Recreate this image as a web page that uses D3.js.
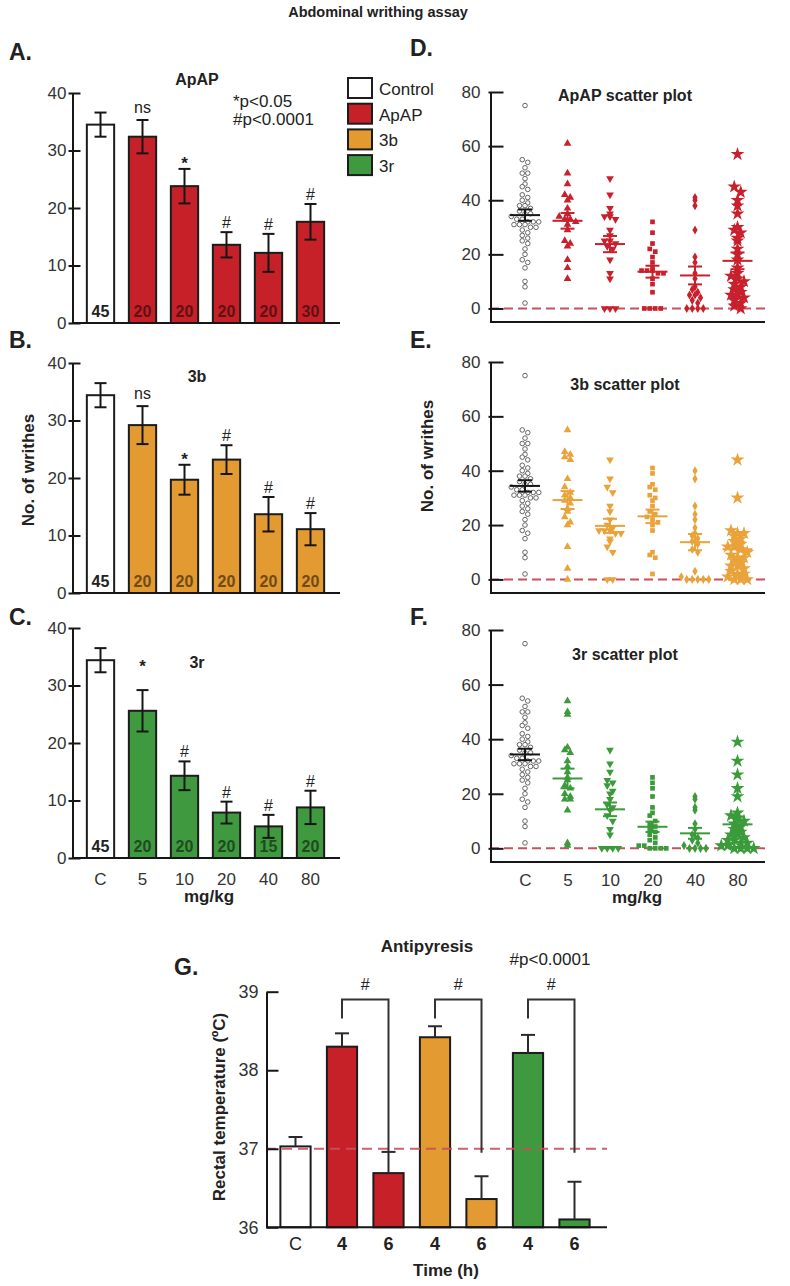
<!DOCTYPE html>
<html>
<head>
<meta charset="utf-8">
<script src="https://cdn.jsdelivr.net/npm/d3@7"></script>
<style>
  body { margin: 0; background: #fff; }
  svg text { font-family: "Liberation Sans", Arial, sans-serif; }
</style>
</head>
<body>
<div id="chart"></div>
<script>
// categories
const doses = ["C", "5", "10", "20", "40", "80"];
const legendNames = ["Control", "ApAP", "3b", "3r"];
const legendColors = ["#ffffff", "#c62129", "#e39a30", "#3f9a3f"];

// writhing bar charts: mean, SEM, n, significance
const apapMean = [34.5, 32.4, 23.8, 13.6, 12.2, 17.6];
const apapSem  = [2.1, 2.9, 3.0, 2.2, 3.3, 3.1];
const apapN    = [45, 20, 20, 20, 20, 30];
const apapSig  = ["", "ns", "*", "#", "#", "#"];

const b3Mean = [34.4, 29.2, 19.7, 23.2, 13.7, 11.1];
const b3Sem  = [2.1, 3.3, 2.6, 2.5, 3.0, 2.8];
const b3N    = [45, 20, 20, 20, 20, 20];
const b3Sig  = ["", "ns", "*", "#", "#", "#"];

const r3Mean = [34.4, 25.6, 14.3, 7.9, 5.5, 8.8];
const r3Sem  = [2.1, 3.6, 2.5, 1.9, 2.0, 2.9];
const r3N    = [45, 20, 20, 20, 15, 20];
const r3Sig  = ["", "*", "#", "#", "#", "#"];

// individual animals (scatter plots), control shared by D, E, F
const ctrlPts = [75, 55, 54, 52, 50, 50, 48, 46, 45, 44, 42, 41, 40, 39, 38, 38, 37, 36, 35, 35, 34, 33, 33,
  32, 32, 32, 31, 31, 31, 30, 30, 29, 28, 27, 26, 25, 24, 22, 20, 18, 17, 15, 10, 8, 2];
const apapPts = [
  [61, 50, 46, 42, 41, 40, 37, 35, 34, 33, 33, 32, 31, 29, 25, 24, 23, 18, 15, 11],
  [48, 42, 37, 35, 34, 34, 33, 29, 27, 25, 25, 24, 23, 22, 18, 13, 11, 0, 0, 0],
  [32, 28, 24, 22, 21, 19, 17, 15, 14, 14, 14, 13, 13, 11, 9, 6, 0, 0, 0, 0],
  [41, 40, 38, 29, 19, 17, 13, 11, 8, 7, 6, 5, 5, 4, 3, 2, 0, 0, 0, 0],
  [57, 45, 43, 40, 38, 35, 30, 29, 28, 26, 25, 22, 20, 18, 15, 13, 12, 11, 10, 9, 8, 7, 6, 5, 5, 4, 3, 2, 1, 0]
];
const b3Pts = [
  [55, 47, 46, 45, 44, 37, 34, 32, 31, 30, 29, 28, 26, 25, 23, 21, 20, 12, 4, 0],
  [44, 37, 34, 32, 27, 25, 22, 20, 19, 18, 18, 18, 17, 17, 15, 14, 12, 10, 0, 0],
  [41, 39, 35, 34, 33, 31, 30, 29, 27, 25, 24, 23, 22, 21, 20, 18, 10, 9, 8, 2],
  [40, 37, 27, 24, 22, 19, 17, 16, 15, 14, 13, 11, 10, 3, 1, 0, 0, 0, 0, 0],
  [44, 30, 18, 17, 17, 16, 15, 14, 13, 12, 12, 11, 10, 9, 8, 8, 7, 6, 5, 5, 4, 3, 2, 2, 1, 0, 0, 0]
];
const r3Pts = [
  [54, 50, 49, 37, 36, 35, 32, 30, 28, 26, 25, 23, 22, 20, 19, 18, 18, 14, 2, 1],
  [36, 31, 28, 25, 24, 23, 21, 20, 18, 16, 15, 14, 12, 10, 7, 5, 0, 0, 0, 0],
  [26, 24, 22, 19, 15, 13, 12, 10, 9, 8, 7, 6, 5, 4, 3, 2, 1, 1, 0, 0, 0, 0],
  [19, 18, 15, 14, 9, 7, 5, 4, 3, 2, 1, 0, 0, 0, 0],
  [39, 32, 27, 22, 19, 13, 12, 11, 10, 9, 8, 7, 6, 5, 5, 4, 3, 3, 2, 2, 1, 1, 0, 0, 0, 0]
];

// antipyresis
const timeLabels = ["C", "4", "6", "4", "6", "4", "6"];
const tempGroup  = ["Control", "ApAP", "ApAP", "3b", "3b", "3r", "3r"];
const tempMean   = [37.03, 38.30, 36.69, 38.42, 36.36, 38.22, 36.10];
const tempSem    = [0.12, 0.17, 0.27, 0.14, 0.29, 0.23, 0.48];
const tempPairs  = [[1, 2], [3, 4], [5, 6]];

const svg = d3.select("#chart").append("svg").attr("width", 790).attr("height", 1286);
const colorOf = name => legendColors[legendNames.indexOf(name)];
const dotColor = {ApAP: "#c8202c", "3b": "#e9a33a", "3r": "#3b9b3b"};
const INK = "#161616";

function label(g, x, y, s, size, o = {}) {
  return g.append("text").attr("x", x).attr("y", y).text(s)
    .attr("font-size", size)
    .attr("font-weight", o.bold ? "bold" : null)
    .attr("text-anchor", o.anchor || "start")
    .attr("fill", o.fill || "#222")
    .attr("transform", o.rotate ? `rotate(-90,${x},${y})` : null);
}

function styleAxis(a, size) {
  a.select(".domain").attr("stroke", INK).attr("stroke-width", 2);
  a.selectAll(".tick line").attr("stroke", INK).attr("stroke-width", 2);
  a.selectAll(".tick text").attr("font-size", size).attr("fill", "#333");
}

function barPanel(p) {
  const g = svg.append("g");
  const x = d3.scaleBand().domain(doses).range([79.5, 331.5]).paddingInner(0.35).paddingOuter(0.175);
  const y = d3.scaleLinear().domain([0, 40]).range([p.base, p.base - 230]);
  const cx = d => x(d.dose) + x.bandwidth() / 2;
  const rows = doses.map((d, i) => ({
    dose: d, mean: p.mean[i], sem: p.sem[i], n: p.n[i], sig: p.sig[i],
    lift: (p.lift || [])[i] || 0, fill: i === 0 ? colorOf("Control") : colorOf(p.group)
  }));

  g.selectAll("rect").data(rows).join("rect")
    .attr("x", d => x(d.dose)).attr("width", x.bandwidth())
    .attr("y", d => y(d.mean)).attr("height", d => y(0) - y(d.mean))
    .attr("fill", d => d.fill).attr("stroke", "#1c1c1c").attr("stroke-width", 2);

  const eb = g.append("g").attr("stroke", INK).attr("stroke-width", 2)
    .selectAll("g").data(rows).join("g");
  eb.append("line").attr("x1", cx).attr("x2", cx)
    .attr("y1", d => y(d.mean - d.sem)).attr("y2", d => y(d.mean + d.sem));
  [1, -1].forEach(s => eb.append("line")
    .attr("x1", d => cx(d) - 6).attr("x2", d => cx(d) + 6)
    .attr("y1", d => y(d.mean + s * d.sem)).attr("y2", d => y(d.mean + s * d.sem)));

  g.append("g").selectAll("text").data(rows).join("text")
    .attr("x", cx).attr("y", y(0) - 6).attr("text-anchor", "middle")
    .attr("font-size", 16).attr("font-weight", "bold")
    .attr("fill", d => d.fill === "#ffffff" ? "#222" : d3.color(d.fill).darker(2))
    .text(d => d.n);

  const sigOff = {"ns": 7, "*": 0, "#": 4};
  g.append("g").selectAll("text").data(rows.filter(d => d.sig)).join("text")
    .attr("x", cx).attr("y", d => y(d.mean + d.sem) - sigOff[d.sig] - d.lift)
    .attr("text-anchor", "middle").attr("font-size", d => d.sig === "*" ? 17 : 16)
    .attr("font-weight", d => d.sig === "*" ? "bold" : null)
    .attr("fill", "#222").text(d => d.sig);

  g.append("g").attr("transform", "translate(72.5,0)")
    .call(d3.axisLeft(y).tickValues([0, 10, 20, 30, 40]).tickSizeInner(-8).tickSizeOuter(0).tickPadding(6))
    .call(a => { styleAxis(a, 17); a.selectAll(".tick line").attr("x1", -4); });
  g.append("line").attr("x1", 72).attr("x2", 340).attr("y1", y(0)).attr("y2", y(0))
    .attr("stroke", INK).attr("stroke-width", 2);

  if (p.xlabels) {
    g.append("g").attr("transform", `translate(0,${y(0)})`)
      .call(d3.axisBottom(x).tickSize(0).tickPadding(15))
      .call(a => { a.select(".domain").remove(); styleAxis(a, 17); });
    label(g, 209, y(0) + 44, "mg/kg", 17, {bold: true, anchor: "middle"});
  }
  label(g, 9, p.letterY, p.letter, 23, {bold: true});
  label(g, 197, p.titleY, p.title, 16, {bold: true, anchor: "middle"});
  if (p.ylabel) label(g, 34, 470, "No. of writhes", 17, {bold: true, anchor: "middle", rotate: true});
}

function swarm(vals, binW, step) {
  const sorted = vals.slice().sort((a, b) => b - a);
  const out = [];
  d3.groups(sorted, v => Math.round(v / binW)).forEach(([, arr]) =>
    arr.forEach((v, j) => out.push({v, dx: (j - (arr.length - 1) / 2) * step})));
  return out;
}

const symType = [null, d3.symbolTriangle, d3.symbolTriangle, d3.symbolSquare, d3.symbolDiamond, d3.symbolStar];
const symSize = [0, 26, 26, 22, 24, 60];
const symRot  = [0, 0, 180, 0, 0, 0];

function scatterPanel(p) {
  const g = svg.append("g");
  const x = d3.scalePoint().domain(doses).range([525, 737.5]);
  const y = d3.scaleLinear().domain([-5, 80]).range([p.base, p.top]);
  const cols = [ctrlPts].concat(p.pts);
  const dc = dotColor[p.group];

  g.append("line").attr("x1", 490).attr("x2", 770).attr("y1", y(0)).attr("y2", y(0))
    .attr("stroke", "#c9505c").attr("stroke-width", 2).attr("stroke-dasharray", "9,5");

  cols.forEach((vals, i) => {
    const pts = swarm(vals, 2.2, i === 5 ? 6.5 : 5.5);
    const c0 = x(doses[i]);
    if (i === 0) {
      g.append("g").selectAll("circle").data(pts).join("circle")
        .attr("cx", d => c0 + d.dx).attr("cy", d => y(d.v)).attr("r", 2.3)
        .attr("fill", "#fff").attr("stroke", "#666").attr("stroke-width", 1);
    } else {
      g.append("g").selectAll("path").data(pts).join("path")
        .attr("d", d3.symbol(symType[i], symSize[i])())
        .attr("transform", d => `translate(${c0 + d.dx},${y(d.v)}) rotate(${symRot[i]})`)
        .attr("fill", dc);
    }
  });

  const ms = g.append("g").attr("stroke-width", 2).selectAll("g")
    .data(doses.map((d, i) => ({dose: d, mean: p.mean[i], sem: p.sem[i], c: i === 0 ? INK : dc})))
    .join("g").attr("stroke", d => d.c);
  ms.append("line").attr("x1", d => x(d.dose) - 15).attr("x2", d => x(d.dose) + 15)
    .attr("y1", d => y(d.mean)).attr("y2", d => y(d.mean));
  ms.append("line").attr("x1", d => x(d.dose)).attr("x2", d => x(d.dose))
    .attr("y1", d => y(d.mean - d.sem)).attr("y2", d => y(d.mean + d.sem));
  [1, -1].forEach(s => ms.append("line")
    .attr("x1", d => x(d.dose) - 7).attr("x2", d => x(d.dose) + 7)
    .attr("y1", d => y(d.mean + s * d.sem)).attr("y2", d => y(d.mean + s * d.sem)));

  g.append("g").attr("transform", "translate(490.5,0)")
    .call(d3.axisLeft(y).tickValues([0, 20, 40, 60, 80]).tickSizeInner(-13).tickSizeOuter(0).tickPadding(10))
    .call(a => { styleAxis(a, 17); a.selectAll(".tick line").attr("x1", -2); });
  g.append("line").attr("x1", 490).attr("x2", 765).attr("y1", y(-5)).attr("y2", y(-5))
    .attr("stroke", INK).attr("stroke-width", 2);

  if (p.xlabels) {
    g.append("g").attr("transform", `translate(0,${y(-5)})`)
      .call(d3.axisBottom(x).tickSize(0).tickPadding(12))
      .call(a => { a.select(".domain").remove(); styleAxis(a, 17); });
    label(g, 637, y(-5) + 41, "mg/kg", 17, {bold: true, anchor: "middle"});
  }
  label(g, 410, p.letterY, p.letter, 23, {bold: true});
  label(g, 625, p.titleY, p.title, 16, {bold: true, anchor: "middle"});
  if (p.ylabel) label(g, 433, 456, "No. of writhes", 17, {bold: true, anchor: "middle", rotate: true});
}

function tempPanel() {
  const g = svg.append("g");
  const idx = d3.range(tempMean.length);
  const x = d3.scaleBand().domain(idx).range([272.25, 597.75]).paddingInner(0.35).paddingOuter(0.175);
  const y = d3.scaleLinear().domain([36, 39]).range([1227.3, 991.7]);
  const cx = i => x(i) + x.bandwidth() / 2;

  g.selectAll("rect").data(idx).join("rect")
    .attr("x", i => x(i)).attr("width", x.bandwidth())
    .attr("y", i => y(tempMean[i])).attr("height", i => y(36) - y(tempMean[i]))
    .attr("fill", i => colorOf(tempGroup[i])).attr("stroke", "#1c1c1c").attr("stroke-width", 2);

  const eb = g.append("g").attr("stroke", "#2a2a2a").attr("stroke-width", 2).selectAll("g").data(idx).join("g");
  eb.append("line").attr("x1", cx).attr("x2", cx)
    .attr("y1", i => y(tempMean[i])).attr("y2", i => y(tempMean[i] + tempSem[i]));
  eb.append("line").attr("x1", i => cx(i) - 7).attr("x2", i => cx(i) + 7)
    .attr("y1", i => y(tempMean[i] + tempSem[i])).attr("y2", i => y(tempMean[i] + tempSem[i]));

  g.append("line").attr("x1", 266).attr("x2", 607).attr("y1", y(37)).attr("y2", y(37))
    .attr("stroke", "#c9505c").attr("stroke-width", 2).attr("stroke-dasharray", "10,6").attr("opacity", 0.9);

  g.append("g").selectAll("path").data(tempPairs).join("path")
    .attr("d", ([a, b]) => `M${cx(a)},${y(38.66)}V${y(38.9)}H${cx(b)}V${y(36.95)}`)
    .attr("fill", "none").attr("stroke", "#333").attr("stroke-width", 2);
  g.append("g").selectAll("text").data(tempPairs).join("text")
    .attr("x", ([a, b]) => (cx(a) + cx(b)) / 2).attr("y", y(38.9) - 10)
    .attr("text-anchor", "middle").attr("font-size", 16).attr("fill", "#222").text("#");

  g.append("g").attr("transform", "translate(266.5,0)")
    .call(d3.axisLeft(y).tickValues([36, 37, 38, 39]).tickFormat(d3.format("d"))
      .tickSizeInner(-12).tickSizeOuter(0).tickPadding(8))
    .call(a => styleAxis(a, 18));
  g.append("line").attr("x1", 266).attr("x2", 607).attr("y1", y(36)).attr("y2", y(36))
    .attr("stroke", INK).attr("stroke-width", 2);

  g.append("g").selectAll("text").data(idx).join("text")
    .attr("x", cx).attr("y", 1250).attr("text-anchor", "middle")
    .attr("font-size", 18).attr("font-weight", i => i === 0 ? null : "bold")
    .attr("fill", "#222").text(i => timeLabels[i]);

  label(g, 446, 1276, "Time (h)", 17, {bold: true, anchor: "middle"});
  label(g, 225, 1107, "Rectal temperature (ºC)", 17, {bold: true, anchor: "middle", rotate: true});
  label(g, 427, 952, "Antipyresis", 17, {bold: true, anchor: "middle"});
  label(g, 550, 965, "#p<0.0001", 17, {anchor: "middle"});
  label(g, 174, 975, "G.", 23, {bold: true});
}

label(svg, 378, 17, "Abdominal writhing assay", 14.5, {bold: true, anchor: "middle"});

barPanel({base: 323, mean: apapMean, sem: apapSem, n: apapN, sig: apapSig, group: "ApAP",
  letter: "A.", letterY: 60, title: "ApAP", titleY: 85});
barPanel({base: 593, mean: b3Mean, sem: b3Sem, n: b3N, sig: b3Sig, group: "3b",
  letter: "B.", letterY: 348, title: "3b", titleY: 382, ylabel: true});
barPanel({base: 858, mean: r3Mean, sem: r3Sem, n: r3N, sig: r3Sig, group: "3r", lift: [0, 18],
  letter: "C.", letterY: 625, title: "3r", titleY: 668, xlabels: true});

label(svg, 233, 107, "*p<0.05", 17);
label(svg, 233, 125, "#p<0.0001", 17);

const lg = svg.append("g").selectAll("g").data(legendNames).join("g")
  .attr("transform", (d, i) => `translate(348,${78 + i * 25.7})`);
lg.append("rect").attr("width", 24).attr("height", 20)
  .attr("fill", d => colorOf(d)).attr("stroke", "#1c1c1c").attr("stroke-width", 2);
lg.append("text").attr("x", 31).attr("y", 17).attr("font-size", 17).attr("fill", "#222").text(d => d);

scatterPanel({base: 322, top: 92, pts: apapPts, mean: apapMean, sem: apapSem, group: "ApAP",
  letter: "D.", letterY: 56, title: "ApAP scatter plot", titleY: 101});
scatterPanel({base: 593, top: 362, pts: b3Pts, mean: b3Mean, sem: b3Sem, group: "3b",
  letter: "E.", letterY: 348, title: "3b scatter plot", titleY: 390, ylabel: true});
scatterPanel({base: 862, top: 630, pts: r3Pts, mean: r3Mean, sem: r3Sem, group: "3r",
  letter: "F.", letterY: 625, title: "3r scatter plot", titleY: 660, xlabels: true});

tempPanel();
</script>
</body>
</html>
